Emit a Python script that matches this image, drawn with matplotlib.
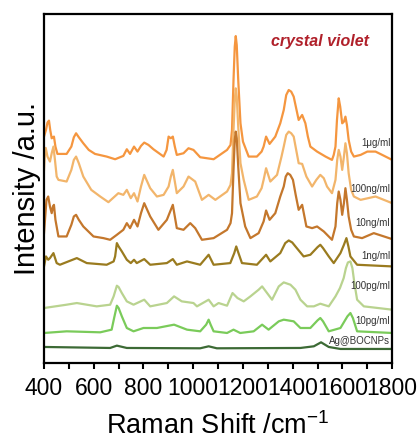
import matplotlib
matplotlib.use("Agg")
import matplotlib.pyplot as plt

# Raman shift (cm-1) and intensity (a.u., offset per trace)
x_1ug = [400, 408, 414, 420, 425, 431, 436, 440, 446, 454, 491, 510, 520, 529, 540, 558, 580, 605, 652, 686,
         719, 733, 746, 762, 776, 790, 803, 820, 840, 881, 893, 901, 910, 918, 926, 934, 961, 981, 1001, 1028,
         1082, 1136, 1150, 1156, 1162, 1167, 1171, 1175, 1181, 1190, 1200, 1223, 1256, 1275, 1283, 1293, 1307,
         1330, 1350, 1364, 1374, 1384, 1394, 1404, 1414, 1424, 1438, 1451, 1461, 1471, 1498, 1532, 1558, 1565,
         1572, 1578, 1585, 1591, 1599, 1606, 1612, 1618, 1625, 1635, 1646, 1673, 1700, 1733, 1760, 1800]
y_1ug = [680, 700, 722, 728, 700, 675, 678, 680, 650, 628, 628, 650, 678, 690, 678, 660, 640, 628, 620, 612,
         622, 642, 628, 650, 635, 652, 662, 655, 642, 620, 640, 680, 675, 680, 650, 625, 630, 645, 640, 618,
         612, 640, 655, 700, 850, 950, 982, 955, 850, 720, 665, 620, 620, 635, 650, 680, 658,
         680, 720, 760, 805, 820, 815, 800, 765, 730, 745, 720, 680, 650, 635, 620, 610, 625,
         650, 730, 795, 770, 720, 725, 740, 715, 670, 635, 620, 625, 635, 635, 625, 610]

x_100ng = [400, 403, 407, 414, 424, 431, 438, 444, 451, 458, 491, 510, 520, 529, 540, 558, 590, 626, 659, 699,
           719, 733, 749, 762, 776, 790, 803, 815, 827, 854, 881, 901, 910, 918, 926, 934, 961, 981, 1008, 1035,
           1062, 1089, 1136, 1150, 1156, 1162, 1167, 1171, 1175, 1181, 1190, 1203, 1223, 1256, 1275, 1283, 1293,
           1310, 1337, 1355, 1364, 1374, 1384, 1394, 1404, 1414, 1424, 1438, 1455, 1478, 1495, 1511, 1525, 1538,
           1558, 1572, 1579, 1585, 1592, 1599, 1606, 1612, 1618, 1625, 1635, 1646, 1673, 1733, 1800]
y_100ng = [580, 620, 646, 620, 605, 630, 650, 610, 560, 550, 545, 580, 610, 620, 600, 560, 520, 500, 483, 510,
           505, 520, 495, 510, 485, 530, 565, 545, 525, 500, 505, 530, 560, 580, 545, 510, 530, 560, 545, 490,
           505, 490, 515, 535, 570, 700, 790, 825, 800, 710, 600, 550, 490, 500, 525, 550, 585,
           545, 565, 620, 650, 685, 695, 690, 680, 640, 600, 598, 560, 530, 550, 565, 555, 530,
           510, 550, 610, 640, 620, 580, 620, 660, 630, 570, 520, 500, 490, 500, 480]

x_10ng = [400, 405, 410, 417, 424, 431, 436, 440, 446, 458, 491, 510, 520, 529, 540, 558, 599, 639, 666, 693,
          719, 733, 746, 762, 776, 790, 803, 815, 827, 860, 894, 910, 918, 926, 934, 961, 988, 1008, 1035, 1082,
          1136, 1150, 1156, 1162, 1167, 1171, 1175, 1181, 1190, 1209, 1230, 1263, 1283, 1293, 1307, 1330, 1350,
          1364, 1372, 1380, 1390, 1401, 1412, 1424, 1438, 1455, 1478, 1498, 1525, 1558, 1572, 1579, 1585, 1592,
          1599, 1606, 1612, 1618, 1625, 1635, 1646, 1679, 1726, 1800]
y_10ng = [390, 440, 490, 500, 470, 450, 470, 475, 430, 380, 380, 415, 440, 445, 430, 410, 380, 375, 370, 385,
          400, 420, 405, 430, 410, 450, 480, 460, 440, 400, 430, 460, 475, 440, 405, 400, 420, 405, 370, 375,
          400, 420, 450, 580, 670, 695, 675, 590, 480, 410, 375, 390, 425, 458, 430, 450, 500,
          530, 560, 570, 565, 550, 505, 460, 475, 410, 405, 410, 395, 370, 410, 480, 515, 490,
          445, 480, 525, 490, 440, 400, 380, 375, 390, 372]

x_1ng = [400, 408, 417, 424, 438, 451, 464, 532, 572, 652, 680, 686, 693, 700, 713, 733, 749, 762, 773, 803,
         827, 894, 918, 934, 975, 1028, 1062, 1082, 1149, 1165, 1173, 1182, 1196, 1256, 1293, 1310, 1350, 1370,
         1384, 1398, 1411, 1444, 1471, 1500, 1511, 1522, 1545, 1565, 1592, 1606, 1616, 1624, 1632, 1659, 1800]
y_1ng = [290, 320, 310, 315, 330, 300, 295, 315, 300, 295, 305, 320, 360, 350, 335, 310, 300, 310, 300, 312,
         295, 300, 312, 295, 305, 295, 325, 295, 300, 330, 350, 330, 300, 295, 325, 305, 330, 360,
         368, 362, 350, 320, 325, 348, 355, 345, 320, 300, 330, 355, 375, 350, 320, 295, 290]

x_100pg = [400, 491, 532, 612, 666, 680, 693, 700, 713, 733, 760, 803, 827, 894, 923, 954, 1001, 1015, 1062,
           1082, 1102, 1136, 1158, 1178, 1203, 1230, 1263, 1277, 1297, 1317, 1344, 1364, 1391, 1411, 1431, 1458,
           1485, 1511, 1545, 1572, 1590, 1605, 1614, 1622, 1632, 1640, 1648, 1659, 1686, 1800]
y_100pg = [165, 175, 180, 170, 175, 200, 232, 228, 210, 185, 175, 190, 170, 180, 200, 185, 180, 170, 190,
           170, 180, 172, 210, 195, 185, 200, 220, 230, 210, 190, 230, 242, 235, 220, 190, 170,
           170, 178, 170, 200, 225, 255, 285, 302, 305, 285, 240, 190, 170, 160]

x_10pg = [400, 491, 626, 672, 682, 693, 700, 713, 733, 760, 800, 854, 923, 975, 1028, 1052, 1062, 1070, 1082,
          1136, 1162, 1189, 1243, 1277, 1303, 1344, 1364, 1404, 1431, 1471, 1500, 1511, 1522, 1545, 1592, 1620,
          1632, 1642, 1659, 1800]
y_10pg = [90, 95, 92, 100, 135, 172, 165, 140, 105, 95, 105, 105, 115, 100, 95, 115, 130, 115, 95,
          90, 100, 90, 95, 115, 100, 125, 130, 125, 105, 105, 128, 135, 125, 95, 105, 140,
          150, 135, 95, 90]

x_ag = [400, 666, 693, 733, 1028, 1062, 1095, 1431, 1485, 1514, 1545, 1592, 1800]
y_ag = [48, 45, 52, 45, 44, 50, 44, 45, 50, 62, 48, 42, 42]

labels = ["1\u03bcg/ml", "100ng/ml", "10ng/ml", "1ng/ml", "100pg/ml", "10pg/ml", "Ag@BOCNPs"]
label_y = [662, 522, 420, 322, 230, 127, 65]
colors = ["#f5963f", "#f2b56b", "#c4772c", "#9a7b1f", "#b9d38f", "#7acb5a", "#3c6a35"]

xs = [x_1ug, x_100ng, x_10ng, x_1ng, x_100pg, x_10pg, x_ag]
ys = [y_1ug, y_100ng, y_10ng, y_1ng, y_100pg, y_10pg, y_ag]

plt.rcParams['font.family'] = ['Liberation Sans', 'DejaVu Sans']
plt.rcParams['mathtext.default'] = 'regular'
fig = plt.figure(figsize=(4.19, 4.41), dpi=100)
ax = fig.add_axes([0.105, 0.177, 0.831, 0.791])

for x, y, c in zip(xs, ys, colors):
    ax.plot(x, y, color=c, lw=1.6, solid_joinstyle='round')

for lab, ly in zip(labels, label_y):
    ax.text(1792, ly, lab, ha='right', va='center', fontsize=7, color='#333333')

ax.text(1511, 965, "crystal violet", ha='center', va='center', fontsize=11.5,
        fontweight='bold', fontstyle='italic', color='#b0202a')

ax.set_xlim(400, 1800)
ax.set_ylim(0, 1048)
ax.set_xticks(range(400, 1801, 200))
ax.set_xticks(range(500, 1800, 200), minor=True)
ax.set_yticks([])
ax.tick_params(axis='x', which='both', direction='out', length=4, width=1.5, labelsize=16.5, pad=6)
for s in ax.spines.values():
    s.set_linewidth(1.6)

ax.set_xlabel("Raman Shift /cm$^{-1}$", fontsize=19.5, labelpad=9)
ax.set_ylabel("Intensity /a.u.", fontsize=21, labelpad=2)

fig.savefig("out.png", dpi=100)
